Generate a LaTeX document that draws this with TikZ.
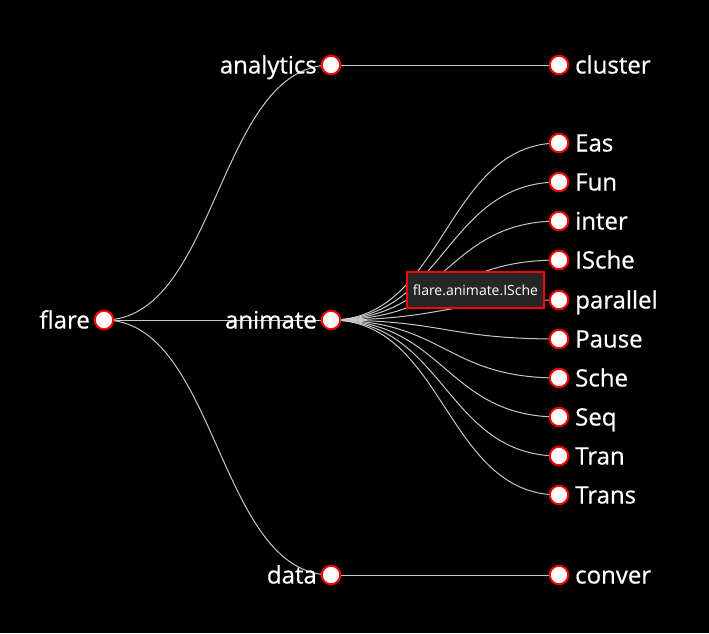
\documentclass[tikz,border=0pt]{standalone}
\usepackage{fontspec}
\setmainfont{Open Sans}
\newfontfamily\lblfont{Open Sans}[FakeBold=0.6]
\usetikzlibrary{calc}
\begin{document}
\begin{tikzpicture}[x=1pt,y=-1pt,
  dot/.style={circle,draw=red,line width=2pt,fill=white,minimum size=18.5pt,inner sep=0pt},
  lnk/.style={draw=white!78!black,line width=1pt},
  lbl/.style={text=white,font=\lblfont\fontsize{24}{28}\selectfont,inner sep=0pt},
  tip/.style={fill=black!85,draw=red,line width=1.6pt,text=white,font=\fontsize{14}{16}\selectfont,minimum width=137pt,minimum height=36pt,inner sep=0pt}]
\useasboundingbox[fill=black] (0,0) rectangle (709,633);
% node positions
\coordinate (flare) at (104,320);
\coordinate (analytics) at (331,65);
\coordinate (animate) at (331,320);
\coordinate (data) at (331,575);
\coordinate (cluster) at (559,65);
\coordinate (Eas) at (559,143);
\coordinate (Fun) at (559,182);
\coordinate (inter) at (559,221);
\coordinate (ISche) at (559,260);
\coordinate (parallel) at (559,300);
\coordinate (Pause) at (559,339);
\coordinate (Sche) at (559,378);
\coordinate (Seq) at (559,417);
\coordinate (Tran) at (559,456);
\coordinate (Trans) at (559,495);
\coordinate (conver) at (559,575);
% links
\foreach \a/\b in {flare/analytics,flare/animate,flare/data,analytics/cluster,
  animate/Eas,animate/Fun,animate/inter,animate/ISche,animate/parallel,animate/Pause,
  animate/Sche,animate/Seq,animate/Tran,animate/Trans,data/conver}{
  \path[lnk] let \p1=(\a), \p2=(\b) in
    (\a) .. controls ({(\x1+\x2)/2},\y1) and ({(\x1+\x2)/2},\y2) .. (\b);
}
% dots
\foreach \n in {flare,analytics,animate,data,cluster,Eas,Fun,inter,ISche,parallel,Pause,Sche,Seq,Tran,Trans,conver}{
  \node[dot] (d-\n) at (\n) {};
}
% labels
\foreach \n in {flare,analytics,animate,data}{
  \node[lbl,anchor=base east] (l-\n) at ([xshift=-14pt,yshift=-8.5pt]\n) {\n};
}
\foreach \n in {cluster,Eas,Fun,inter,ISche,parallel,Pause,Sche,Seq,Tran,Trans,conver}{
  \node[lbl,anchor=base west] (l-\n) at ([xshift=16pt,yshift=-8.5pt]\n) {\n};
}
% tooltip
\node[tip] (tooltip) at (475.5,290) {flare.animate.ISche};
\end{tikzpicture}
\end{document}
